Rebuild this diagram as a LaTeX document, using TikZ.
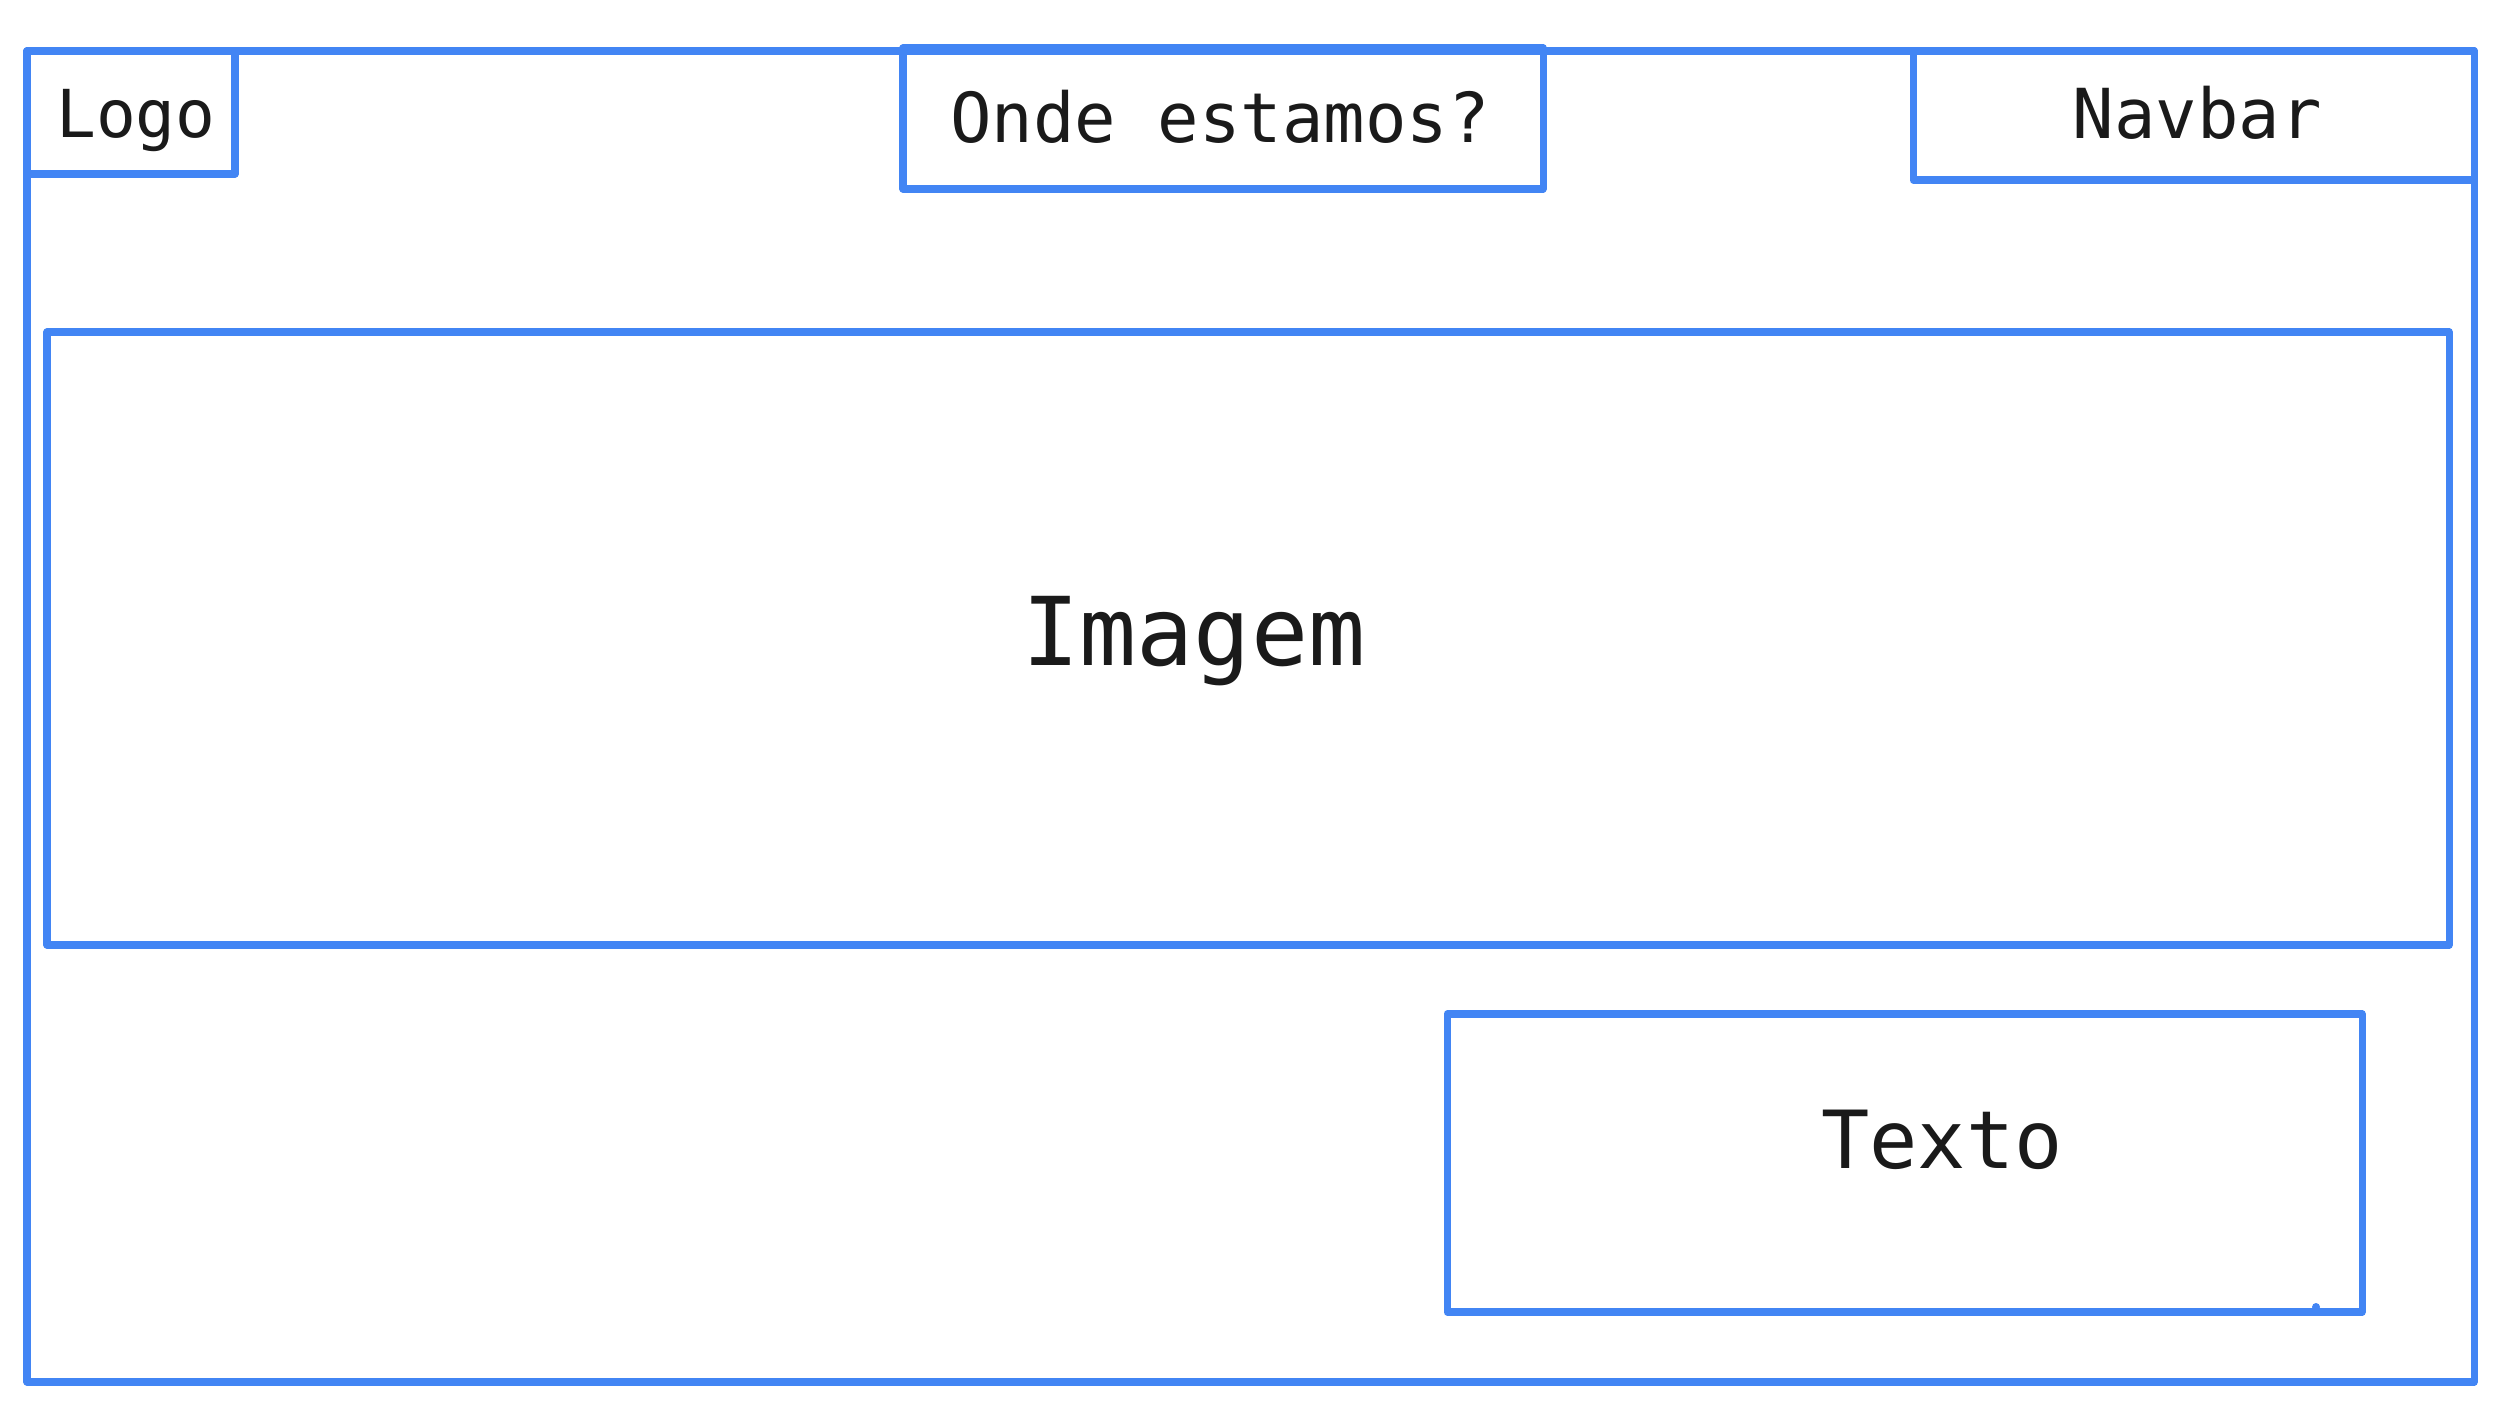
\documentclass[tikz,border=0pt]{standalone}
\usepackage{fontspec}
\setmonofont{DejaVu Sans Mono}
\usepackage{tikz}
\definecolor{wireblue}{RGB}{66,133,244}
\definecolor{wiretext}{RGB}{26,26,26}

\begin{document}
\begin{tikzpicture}[x=0.01cm, y=-0.01cm]

    \useasboundingbox (0,0) rectangle (2506,1425);

    \tikzset{
        box/.style={draw=wireblue, line width=2pt, line join=round},
        label/.style={anchor=base, inner sep=0pt, text=wiretext, font=\ttfamily}
    }

    \coordinate (P1) at (27,51);
    \coordinate (P2) at (2474,1382);
    \coordinate (L1) at (27,51);
    \coordinate (L2) at (235,174);
    \coordinate (O1) at (903,48);
    \coordinate (O2) at (1543,189);
    \coordinate (N1) at (1913,51);
    \coordinate (N2) at (2474,180);
    \coordinate (I1) at (47,332);
    \coordinate (I2) at (2449,945);
    \coordinate (T1) at (1447,1014);
    \coordinate (T2) at (2362,1312);

    \draw[box] (P1) rectangle (P2);
    \draw[box] (L1) rectangle (L2);
    \draw[box] (O1) rectangle (O2);
    \draw[box] (N1) rectangle (N2);
    \draw[box] (I1) rectangle (I2);
    \draw[box] (T1) rectangle (T2);

    \fill[wireblue] (2316,1307) circle (4);

    \node[label, font=\ttfamily\fontsize{18.8}{20}\selectfont] (logo) at (136,138) {Logo};
    \node[label, font=\ttfamily\fontsize{19.6}{21}\selectfont] (onde) at (1220,143) {Onde estamos?};
    \node[label, font=\ttfamily\fontsize{19.6}{21}\selectfont] (navbar) at (2197,139) {Navbar};
    \node[label, font=\ttfamily\fontsize{27}{29}\selectfont] (imagem) at (1194,666) {Imagem};
    \node[label, font=\ttfamily\fontsize{22.8}{24}\selectfont] (texto) at (1942,1168) {Texto};

\end{tikzpicture}
\end{document}
